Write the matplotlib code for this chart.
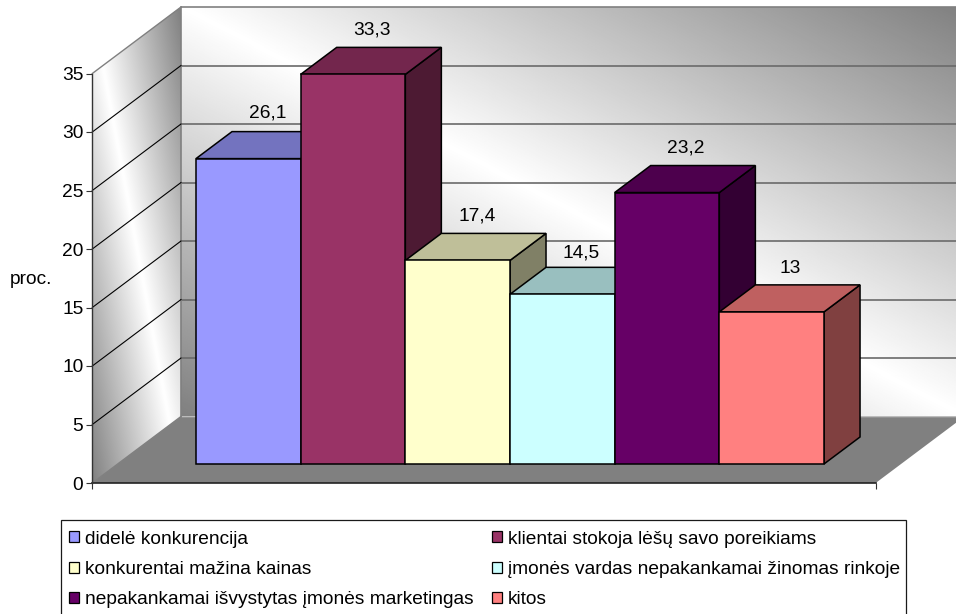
import matplotlib
matplotlib.use("Agg")
import numpy as np
import matplotlib.pyplot as plt
from matplotlib.patches import Polygon, Patch, Rectangle
from matplotlib.colors import to_rgb

plt.rcParams['font.family'] = ['Liberation Sans', 'DejaVu Sans']

# ---- data ----
categories = ["didelė konkurencija", "klientai stokoja lėšų savo poreikiams",
              "konkurentai mažina kainas", "įmonės vardas nepakankamai žinomas rinkoje",
              "nepakankamai išvystytas įmonės marketingas", "kitos"]
values = [26.1, 33.3, 17.4, 14.5, 23.2, 13]
value_labels = ["26,1", "33,3", "17,4", "14,5", "23,2", "13"]
bar_colors = ["#9999FF", "#993366", "#FFFFCC", "#CCFFFF", "#660066", "#FF8080"]
y_ticks = [0, 5, 10, 15, 20, 25, 30, 35]
y_label = "proc."

# ---- layout (pixels of the 956x614 figure) ----
FW, FH = 956, 614
FS = 13.8
PX_CAT = 104.67       # px per category
PX_VAL = 11.7         # px per value unit
X0, Y0 = 92.3, 483.0  # axis corner
WALL_DX, WALL_DY = 88.7, 66.5
BAR_D0, BAR_D1 = 0.286, 0.692  # bar front / back depth (0 front .. 1 wall)
BAR_START = (196 - X0 - BAR_D0 * WALL_DX) / PX_CAT
AXIS_W = (875.7 - X0) / PX_CAT
DX = WALL_DX / PX_CAT
DY = WALL_DY / PX_VAL
VMAX = y_ticks[-1]

def proj(x, v, d=0.0):
    return (x + d * DX, v + d * DY)

fig = plt.figure(figsize=(FW / 100, FH / 100), dpi=100)
ax = fig.add_axes([0, 0, 1, 1])
ax.patch.set_alpha(0)

def gradient(corners, extent):
    n = 400
    u, v = np.meshgrid(np.linspace(0, 1, n), np.linspace(0, 1, n))
    g = (255 - 127 * np.abs(u + v - 1)) / 255
    im = ax.imshow(g, extent=extent, origin='lower', cmap='gray', vmin=0, vmax=1,
                   aspect='auto', zorder=0.5, interpolation='bilinear')
    clip = Polygon(corners, closed=True, transform=ax.transData)
    im.set_clip_path(clip)

# back wall
bl = proj(0, 0, 1); br = proj(AXIS_W, 0, 1); tr = proj(AXIS_W, VMAX, 1); tl = proj(0, VMAX, 1)
gradient([bl, br, tr, tl], (bl[0], br[0], bl[1], tl[1]))
# side wall
side = [proj(0, 0, 0), proj(0, 0, 1), proj(0, VMAX, 1), proj(0, VMAX, 0)]
gradient(side, (0, bl[0], 0, tl[1]))
# floor
ax.add_patch(Polygon([proj(0, 0, 0), proj(AXIS_W, 0, 0), proj(AXIS_W, 0, 1), proj(0, 0, 1)],
                     closed=True, fc="#808080", ec="none", zorder=1))

# grid lines
for t in y_ticks:
    a, b = proj(0, t, 0), proj(0, t, 1)
    c = proj(AXIS_W, t, 1)
    if t == 0:
        ax.plot([b[0], c[0]], [b[1], c[1]], color="#929292", lw=0.8, zorder=1.2)
    else:
        col = "#6a6a6a" if t < VMAX else "#808080"
        ax.plot([b[0], c[0]], [b[1], c[1]], color=col, lw=1.2, zorder=1.2, solid_capstyle='butt')
    if 0 < t < VMAX:
        ax.plot([a[0], b[0]], [a[1], b[1]], color="black", lw=0.8, zorder=1.3)
    else:
        ax.plot([a[0], b[0]], [a[1], b[1]], color="#808080", lw=1.0, zorder=1.3)
e0, e1 = proj(0, 0, 1), proj(0, VMAX, 1)
ax.plot([e0[0], e1[0]], [e0[1], e1[1]], color="#808080", lw=1.2, zorder=1.25)

# bars
def shade(color, f):
    return tuple(c * f for c in to_rgb(color))

label_dy_px = [19, 17, 17, 14, 18, 16]
for i, (val, col, lab) in enumerate(zip(values, bar_colors, value_labels)):
    x0, x1 = BAR_START + i, BAR_START + i + 1
    z = 2 + i * 0.1
    kw = dict(closed=True, ec="black", lw=1.1, joinstyle='miter', zorder=z)
    ax.add_patch(Polygon([proj(x1, 0, BAR_D0), proj(x1, 0, BAR_D1),
                          proj(x1, val, BAR_D1), proj(x1, val, BAR_D0)],
                         fc=shade(col, 0.5), **kw))
    ax.add_patch(Polygon([proj(x0, val, BAR_D0), proj(x1, val, BAR_D0),
                          proj(x1, val, BAR_D1), proj(x0, val, BAR_D1)],
                         fc=shade(col, 0.75), **kw))
    ax.add_patch(Polygon([proj(x0, 0, BAR_D0), proj(x1, 0, BAR_D0),
                          proj(x1, val, BAR_D0), proj(x0, val, BAR_D0)],
                         fc=col, **kw))
    cx = (proj(x0, 0, BAR_D0)[0] + proj(x1, 0, BAR_D1)[0]) / 2
    cy = proj(x0, val, BAR_D1)[1]
    ax.annotate(lab, (cx, cy), xytext=(0.7, label_dy_px[i] * 0.72), textcoords='offset points',
                ha='center', va='center', fontsize=FS, color='black', zorder=5)

# axes
ax.set_xlim(-X0 / PX_CAT, (FW - X0) / PX_CAT)
ax.set_ylim(-(FH - Y0) / PX_VAL, Y0 / PX_VAL)
for s in ('top', 'right'):
    ax.spines[s].set_visible(False)
ax.spines['left'].set_position(('data', 0))
ax.spines['bottom'].set_position(('data', 0))
ax.spines['left'].set_bounds(0, VMAX)
ax.spines['bottom'].set_bounds(0, AXIS_W)
ax.spines['left'].set_color("#333333")
ax.spines['bottom'].set_color("#222222")
ax.spines['left'].set_linewidth(1.0)
ax.spines['bottom'].set_linewidth(1.2)
ax.spines['left'].set_zorder(6)
ax.spines['bottom'].set_zorder(1.5)
ax.set_xticks([0, AXIS_W])
ax.set_xticklabels([])
ax.set_yticks(y_ticks)
ax.tick_params(axis='both', direction='out', length=4.5, width=0.8, color="#333333",
               labelsize=FS, pad=2.0)

fig.text(31 / FW, 1 - 279 / FH, y_label, ha='center', va='center', fontsize=FS)

# legend frame: its lower edge runs off the canvas
fig.add_artist(Rectangle((61 / FW, -20 / FH), 844.7 / FW, (FH - 520 + 20) / FH,
                         transform=fig.transFigure, fc='white', ec='#1a1a1a', lw=0.9))

# legend (column-wise order so it reads row by row)
order = [0, 2, 4, 1, 3, 5]
handles = [Patch(fc=bar_colors[i], ec='black', lw=0.9) for i in order]
labels = [categories[i] for i in order]
leg = fig.legend(handles, labels, ncol=2, mode='expand', loc='upper left',
                 bbox_to_anchor=(61 / FW, 1 - 622.5 / FH, 847 / FW, 100 / FH),
                 bbox_transform=fig.transFigure, borderaxespad=0,
                 fontsize=FS, frameon=False,
                 handlelength=0.53, handleheight=0.53,
                 handletextpad=0.32, labelspacing=0.70, borderpad=0.42,
                 columnspacing=0.4)

fig.savefig("out.png", dpi=100)
